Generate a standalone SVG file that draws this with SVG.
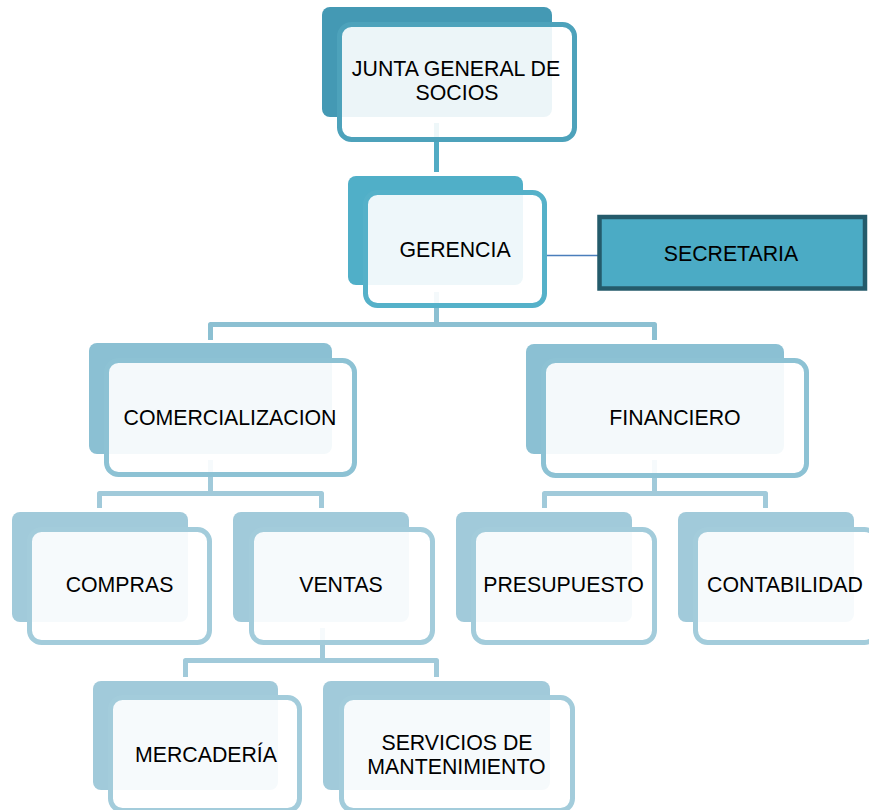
<svg xmlns="http://www.w3.org/2000/svg" width="869" height="810" viewBox="0 0 869 810">
<style>
  text { font-family: "Liberation Sans", Arial, sans-serif; font-size: 21.3px; fill: #000; text-anchor: middle; }
  .front { fill: #ffffff; fill-opacity: 0.9; stroke-width: 5; }
  .c1 .back { fill: #4499B4; } .c1 .front { stroke: #4DA2BB; }
  .c2 .back { fill: #50AFC8; } .c2 .front { stroke: #55B1C9; }
  .c3 .back { fill: #8BC0D3; } .c3 .front { stroke: #8DC2D4; }
  .c4 .back { fill: #A1CADA; } .c4 .front { stroke: #A3CCDB; }
  .conn { fill: none; stroke-width: 5; stroke-linejoin: round; }
</style>
<rect width="869" height="810" fill="#ffffff"/>
<g id="connectors">
  <path class="conn" d="M436.5 123 V172" stroke="#52ABC4"/>
  <path class="conn" d="M436.5 292 V324.5 M210.5 340 V324.5 H654.5 V340" stroke="#8CC0D2"/>
  <path class="conn" d="M210.5 460 V493.5 M99.5 508 V493.5 H321.5 V508" stroke="#A1CADA"/>
  <path class="conn" d="M654.5 460 V493.5 M544.5 508 V493.5 H765.5 V508" stroke="#A1CADA"/>
  <path class="conn" d="M322.5 628 V660.5 M185.5 677 V660.5 H436.5 V677" stroke="#A1CADA"/>
  <line x1="542" y1="255.5" x2="599" y2="255.5" stroke="#4A7EBB" stroke-width="1.5"/>
</g>
<g id="junta" class="c1">
  <rect class="back" x="322" y="7" width="230" height="110" rx="8"/>
  <rect class="front" x="339.5" y="24.5" width="235" height="115" rx="12"/>
  <text x="456" y="75.5">JUNTA GENERAL DE</text>
  <text x="457" y="99.5">SOCIOS</text>
</g>
<g id="gerencia" class="c2">
  <rect class="back" x="348" y="176" width="175" height="109" rx="8"/>
  <rect class="front" x="365.5" y="192.5" width="179" height="113" rx="12"/>
  <text x="455" y="257">GERENCIA</text>
</g>
<g id="secretaria">
  <rect x="599.5" y="217" width="265.5" height="71.5" fill="#4BABC5" stroke="#245B6B" stroke-width="4.5"/>
  <text x="731" y="261">SECRETARIA</text>
</g>
<g id="comercializacion" class="c3">
  <rect class="back" x="89" y="343" width="243" height="111" rx="8"/>
  <rect class="front" x="106.5" y="360.5" width="248" height="114" rx="12"/>
  <text x="230" y="425">COMERCIALIZACION</text>
</g>
<g id="financiero" class="c3">
  <rect class="back" x="526" y="344" width="258" height="110" rx="8"/>
  <rect class="front" x="543.5" y="360.5" width="263" height="115" rx="12"/>
  <text x="675" y="425">FINANCIERO</text>
</g>
<g id="compras" class="c4">
  <rect class="back" x="12" y="512" width="176" height="110" rx="8"/>
  <rect class="front" x="29.5" y="529.5" width="180" height="113" rx="12"/>
  <text x="119.5" y="592">COMPRAS</text>
</g>
<g id="ventas" class="c4">
  <rect class="back" x="233" y="512" width="176" height="110" rx="8"/>
  <rect class="front" x="251.5" y="529.5" width="181" height="113" rx="12"/>
  <text x="341" y="592">VENTAS</text>
</g>
<g id="presupuesto" class="c4">
  <rect class="back" x="456" y="512" width="176" height="110" rx="8"/>
  <rect class="front" x="473.5" y="529.5" width="181" height="113" rx="12"/>
  <text x="563.5" y="592">PRESUPUESTO</text>
</g>
<g id="contabilidad" class="c4">
  <rect class="back" x="678" y="512" width="176" height="110" rx="8"/>
  <rect class="front" x="695.5" y="529.5" width="181" height="113" rx="12"/>
  <text x="785" y="592">CONTABILIDAD</text>
</g>
<g id="mercaderia" class="c4">
  <rect class="back" x="93" y="681" width="185" height="109" rx="8"/>
  <rect class="front" x="110.5" y="697.5" width="189" height="113" rx="12"/>
  <text x="206" y="762">MERCADERÍA</text>
</g>
<g id="servicios" class="c4">
  <rect class="back" x="323" y="681" width="227" height="109" rx="8"/>
  <rect class="front" x="341.5" y="697.5" width="231" height="113" rx="12"/>
  <text x="457" y="750">SERVICIOS DE</text>
  <text x="456.5" y="774">MANTENIMIENTO</text>
</g>
</svg>
